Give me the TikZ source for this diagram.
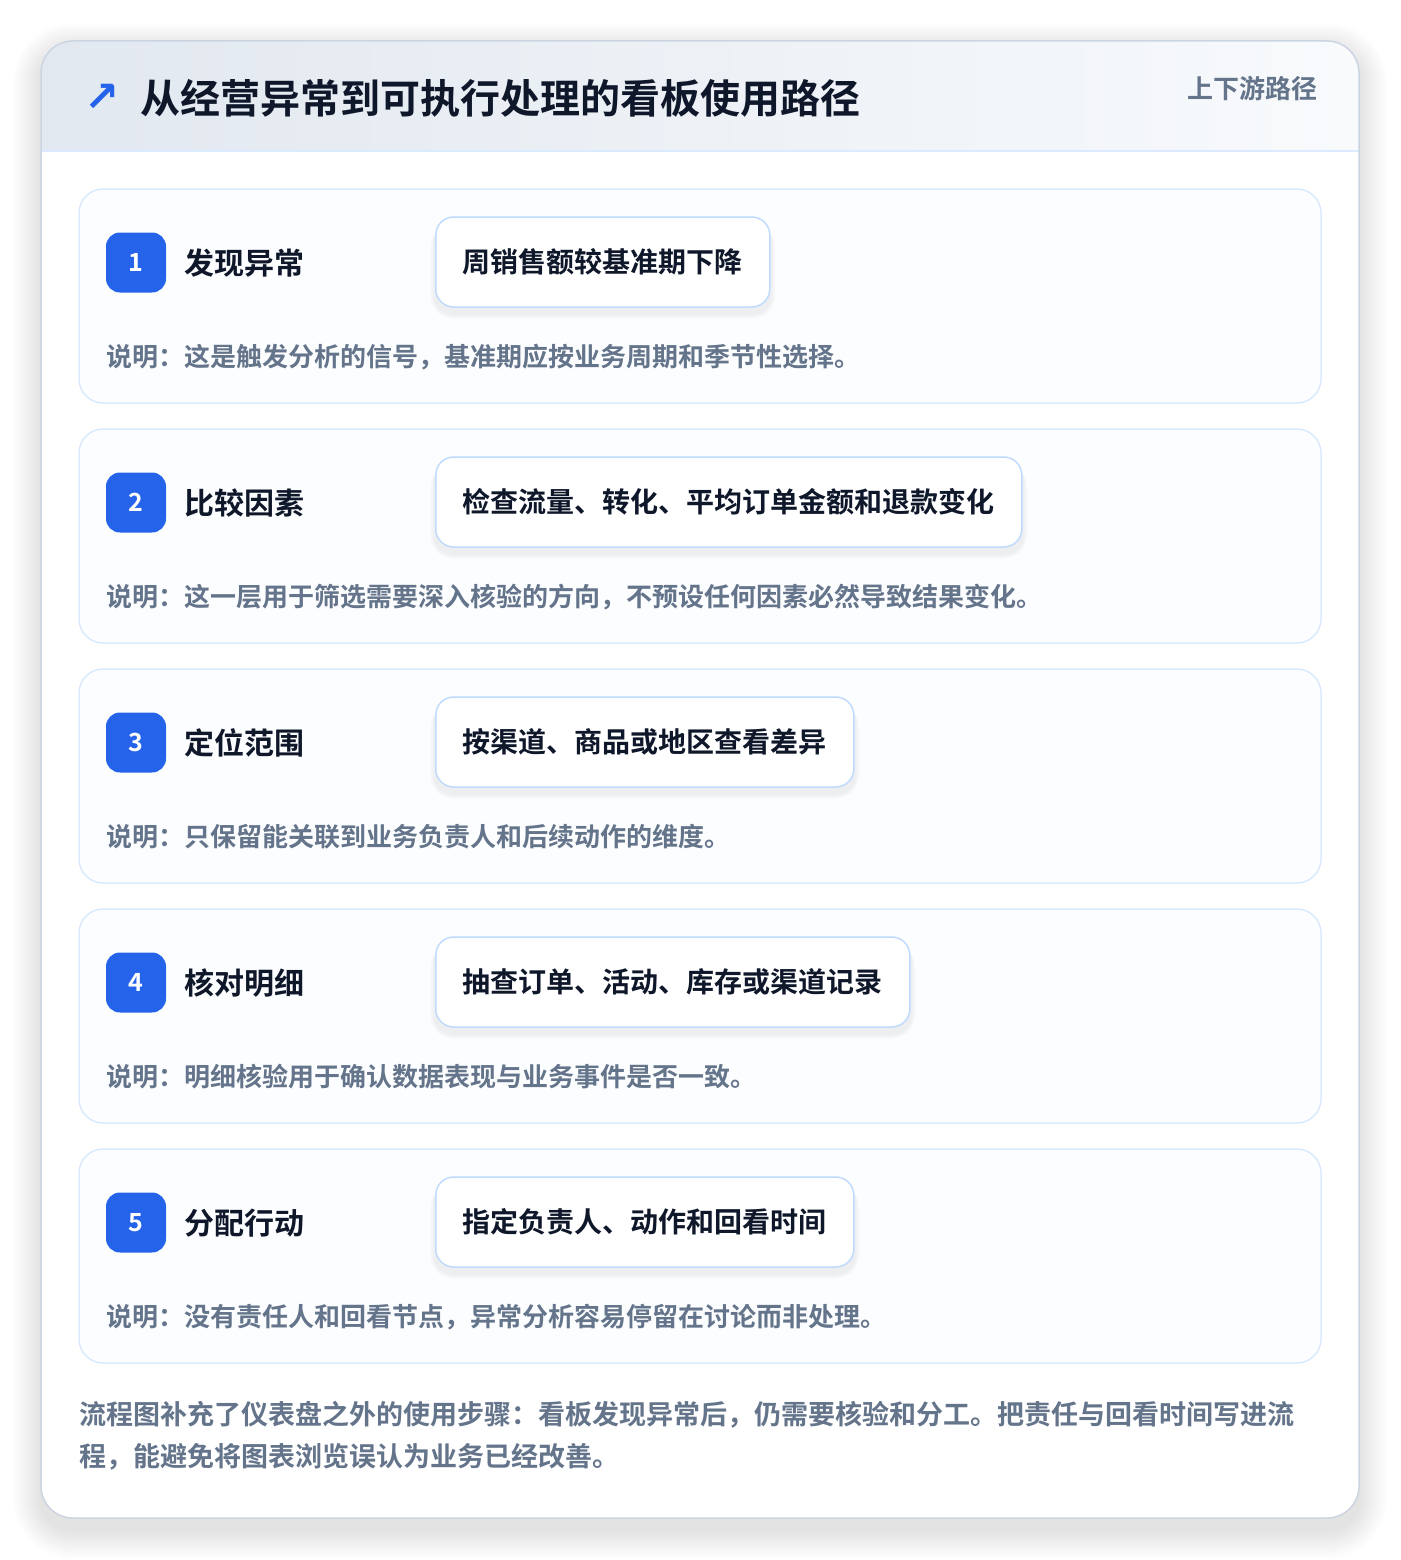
\documentclass[tikz,border=0pt]{standalone}
\usepackage{fontspec}
\setmainfont{Noto Sans CJK SC}[BoldFont={Noto Sans CJK SC Bold}]
\newfontfamily\djv{DejaVu Sans}
\definecolor{ink}{HTML}{0F172A}
\definecolor{muted}{HTML}{64748B}
\definecolor{accent}{HTML}{2563EB}
\definecolor{cardline}{HTML}{DBEAFE}
\definecolor{pillline}{HTML}{BFDBFE}
\definecolor{frameline}{HTML}{CBD5E1}
\definecolor{hdrL}{HTML}{E2E8F0}
\definecolor{hdrR}{HTML}{F8FAFC}
\definecolor{cardfill}{HTML}{FCFDFE}
\tikzset{
  card/.style={draw=cardline, line width=1.5pt, fill=cardfill, rounded corners=24pt, minimum width=1242pt, minimum height=214pt, inner sep=0pt},
  badge/.style={fill=accent, rounded corners=14pt, minimum width=60pt, minimum height=60pt, inner sep=0pt, text=white, font=\bfseries\fontsize{25}{28}\selectfont},
  steptitle/.style={anchor=west, inner sep=0pt, text=ink, font=\bfseries\fontsize{30}{36}\selectfont},
  pill/.style={anchor=west, draw=pillline, line width=1.5pt, fill=white, rounded corners=18pt, minimum height=90pt, inner xsep=27pt, inner ysep=0pt, text=ink, font=\bfseries\fontsize{28}{34}\selectfont},
  desc/.style={anchor=west, inner sep=0pt, text=muted, font=\bfseries\fontsize{26}{32}\selectfont},
  note/.style={anchor=west, inner sep=0pt, text=muted, font=\bfseries\fontsize{27}{34}\selectfont},
}
\newcommand{\pillshadow}[1]{%
  \foreach \k in {1,...,5}{%
    \fill[black, opacity=0.012, rounded corners=18pt+\k pt]
      ([xshift=-\k pt, yshift=-4pt-\k pt]#1.north west) rectangle ([xshift=\k pt, yshift=-6pt-\k pt]#1.south east);
  }%
}
\begin{document}
\begin{tikzpicture}[x=1pt,y=-1pt]
\useasboundingbox (0,0) rectangle (1400,1560);
\fill[white] (0,0) rectangle (1400,1560);
% outer shadow
\foreach \k in {1,...,14}{
  \fill[black, opacity=0.007, rounded corners=32pt+2*\k pt] (41-2*\k,41-2*\k+10) rectangle (1359+2*\k,1518+2*\k+12);
}
% outer frame
\node[draw=none, fill=white, rounded corners=32pt, minimum width=1318pt, minimum height=1477pt, inner sep=0pt] (frame) at (700,779.5) {};
\begin{scope}
  \clip[rounded corners=32pt] (41,41) rectangle (1359,1518);
  \shade[left color=hdrL, right color=hdrR] (41,41) rectangle (1359,151);
\end{scope}
\draw[cardline, line width=1.5pt] (41,151) -- (1359,151);
\draw[frameline, line width=1.5pt, rounded corners=32pt] (41,41) rectangle (1359,1518);

% header
\node[anchor=center, inner sep=0pt, text=accent, font=\djv\bfseries\fontsize{42}{46}\selectfont] (icon) at (102,98) {↗};
\node[anchor=west, inner sep=0pt, text=ink, font=\bfseries\fontsize{40}{48}\selectfont] (title) at (140,98) {从经营异常到可执行处理的看板使用路径};
\node[anchor=east, inner sep=0pt, text=muted, font=\bfseries\fontsize{26}{30}\selectfont] (tag) at (1318,89) {上下游路径};

% step 1
\node[card] (c1) at (700,296) {};
\node[badge] (b1) at (136,262.5) {1};
\node[steptitle] (t1) at (184,263) {发现异常};
\node[pill, draw=none, fill=none] (q1) at (435,262) {周销售额较基准期下降};
\pillshadow{q1}
\node[pill] (p1) at (435,262) {周销售额较基准期下降};
\node[desc] (d1) at (106,357) {说明：这是触发分析的信号，基准期应按业务周期和季节性选择。};

% step 2
\node[card] (c2) at (700,536) {};
\node[badge] (b2) at (136,502.5) {2};
\node[steptitle] (t2) at (184,503) {比较因素};
\node[pill, draw=none, fill=none] (q2) at (435,502) {检查流量、转化、平均订单金额和退款变化};
\pillshadow{q2}
\node[pill] (p2) at (435,502) {检查流量、转化、平均订单金额和退款变化};
\node[desc] (d2) at (106,597) {说明：这一层用于筛选需要深入核验的方向，不预设任何因素必然导致结果变化。};

% step 3
\node[card] (c3) at (700,776) {};
\node[badge] (b3) at (136,742.5) {3};
\node[steptitle] (t3) at (184,743) {定位范围};
\node[pill, draw=none, fill=none] (q3) at (435,742) {按渠道、商品或地区查看差异};
\pillshadow{q3}
\node[pill] (p3) at (435,742) {按渠道、商品或地区查看差异};
\node[desc] (d3) at (106,837) {说明：只保留能关联到业务负责人和后续动作的维度。};

% step 4
\node[card] (c4) at (700,1016) {};
\node[badge] (b4) at (136,982.5) {4};
\node[steptitle] (t4) at (184,983) {核对明细};
\node[pill, draw=none, fill=none] (q4) at (435,982) {抽查订单、活动、库存或渠道记录};
\pillshadow{q4}
\node[pill] (p4) at (435,982) {抽查订单、活动、库存或渠道记录};
\node[desc] (d4) at (106,1077) {说明：明细核验用于确认数据表现与业务事件是否一致。};

% step 5
\node[card] (c5) at (700,1256) {};
\node[badge] (b5) at (136,1222.5) {5};
\node[steptitle] (t5) at (184,1223) {分配行动};
\node[pill, draw=none, fill=none] (q5) at (435,1222) {指定负责人、动作和回看时间};
\pillshadow{q5}
\node[pill] (p5) at (435,1222) {指定负责人、动作和回看时间};
\node[desc] (d5) at (106,1317) {说明：没有责任人和回看节点，异常分析容易停留在讨论而非处理。};

% closing note
\node[note] (n1) at (79,1415) {流程图补充了仪表盘之外的使用步骤：看板发现异常后，仍需要核验和分工。把责任与回看时间写进流};
\node[note] (n2) at (79,1457) {程，能避免将图表浏览误认为业务已经改善。};
\end{tikzpicture}
\end{document}
